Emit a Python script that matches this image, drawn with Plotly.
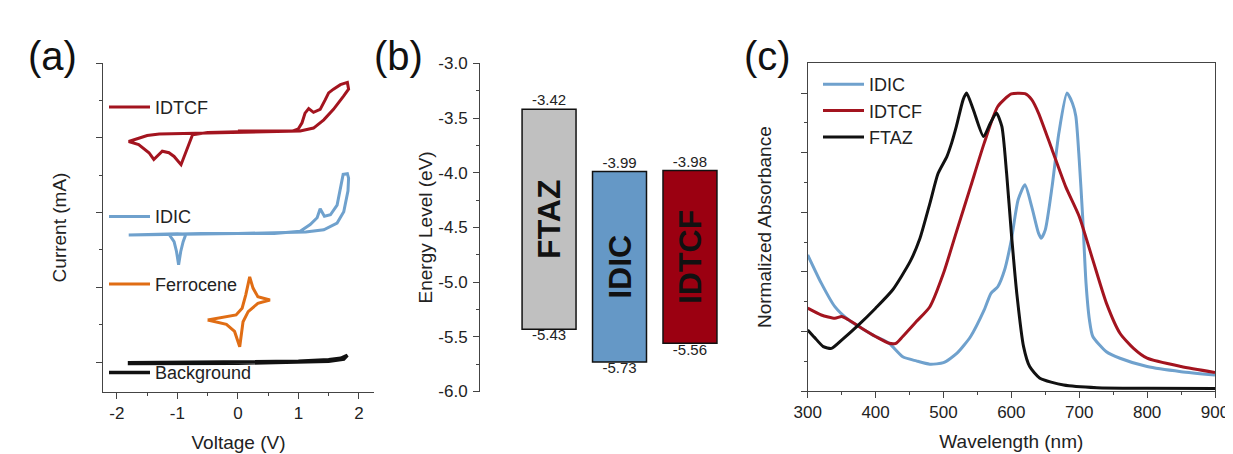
import plotly.graph_objects as go

# ---------------- data ----------------
# (a) cyclic voltammetry (V, arbitrary offset current units)
idtcf_v = [0.0, 0.5, 0.9, 1.0, 1.06, 1.11, 1.17, 1.25, 1.36, 1.445, 1.5, 1.58, 1.695, 1.81, 1.83, 1.75, 1.58,
           1.42, 1.25, 1.03, 0.5, 0.0, -0.5, -0.75, -1.0, -1.3, -1.5, -1.805, -1.64, -1.47, -1.39, -1.25,
           -1.14, -1.055, -0.94, -0.86, -0.75, -0.5, 0.0]
idtcf_i = [3.09, 3.09, 3.09, 3.12, 3.2, 3.33, 3.39, 3.34, 3.38, 3.51, 3.60, 3.65, 3.71, 3.74, 3.65, 3.56, 3.38,
           3.24, 3.13, 3.09, 3.08, 3.08, 3.07, 3.06, 3.06, 3.05, 3.03, 2.95, 2.91, 2.80, 2.71, 2.82,
           2.80, 2.75, 2.64, 2.80, 3.04, 3.07, 3.08]

idic_v = [0.0, 0.6, 1.03, 1.195, 1.31, 1.36, 1.43, 1.53, 1.64, 1.695, 1.74, 1.81, 1.83, 1.82, 1.75, 1.64,
          1.42, 1.12, 0.6, 0.0, -0.6, -1.14, -1.055, -1.015, -0.98, -0.945, -0.905, -0.86, -1.0, -1.5,
          -1.805, -1.5, -0.6, 0.0]
idic_i = [1.72, 1.72, 1.75, 1.84, 1.93, 2.05, 1.95, 1.97, 2.10, 2.33, 2.51, 2.52, 2.46, 2.29, 2.01, 1.86,
          1.77, 1.74, 1.73, 1.72, 1.72, 1.71, 1.61, 1.48, 1.30, 1.48, 1.61, 1.71, 1.715, 1.71,
          1.70, 1.70, 1.71, 1.72]

ferro_v = [-0.5, -0.25, -0.03, 0.07, 0.13, 0.195, 0.25, 0.33, 0.53, 0.33, 0.17, 0.085, 0.03, -0.055, -0.19, -0.5]
ferro_i = [0.563, 0.594, 0.63, 0.72, 0.90, 1.14, 0.99, 0.875, 0.83, 0.786, 0.675, 0.54, 0.205, 0.41, 0.505, 0.563]

bg_v = [-1.82, 0.0, 1.0, 1.5, 1.7, 1.81, 1.75, 1.5, 0.0, -1.82]
bg_i = [-0.01, 0.0, 0.01, 0.03, 0.05, 0.09, 0.04, 0.01, -0.015, -0.02]

cv_xtick_vals = [-2, -1, 0, 1, 2]
cv_xtick_text = ["-2", "-1", "0", "1", "2"]

# (b) energy levels
materials = ["FTAZ", "IDIC", "IDTCF"]
lumo = [-3.42, -3.99, -3.98]
homo = [-5.43, -5.73, -5.56]
energy_tick_vals = [-3.0, -3.5, -4.0, -4.5, -5.0, -5.5, -6.0]
energy_tick_text = ["-3.0", "-3.5", "-4.0", "-4.5", "-5.0", "-5.5", "-6.0"]

# (c) normalized absorbance
wl_idic = [300, 320, 340, 360, 380, 400, 420, 440, 460, 480, 500, 520, 540, 560, 570, 580, 590, 600,
           610, 620, 630, 640, 644, 650, 660, 670, 682, 690, 695, 700, 705, 710, 715, 720, 740, 760,
           800, 850, 900]
ab_idic = [0.457, 0.362, 0.283, 0.239, 0.21, 0.183, 0.16, 0.115, 0.101, 0.09, 0.095, 0.127, 0.183,
           0.272, 0.328, 0.35, 0.406, 0.507, 0.642, 0.692, 0.619, 0.53, 0.513, 0.541, 0.686, 0.866,
           1.0, 0.966, 0.922, 0.776, 0.586, 0.362, 0.239, 0.183, 0.132, 0.11, 0.082, 0.065, 0.054]

wl_idtcf = [300, 320, 340, 350, 360, 380, 400, 420, 430, 440, 460, 480, 500, 520, 540, 560, 580, 600,
            620, 630, 640, 660, 680, 700, 720, 740, 760, 780, 800, 850, 900]
ab_idtcf = [0.278, 0.255, 0.244, 0.25, 0.239, 0.21, 0.183, 0.16, 0.16, 0.183, 0.233, 0.283, 0.395,
            0.541, 0.686, 0.832, 0.955, 0.997, 0.998, 0.978, 0.933, 0.81, 0.686, 0.586, 0.44, 0.295,
            0.194, 0.143, 0.11, 0.082, 0.062]

wl_ftaz = [300, 310, 323, 335, 350, 375, 400, 425, 451, 465, 480, 492, 505, 512, 519, 529, 534, 544,
           559, 569, 578, 586, 593, 600, 608, 618, 627, 642, 677, 726, 800, 900]
ab_ftaz = [0.205, 0.18, 0.149, 0.143, 0.171, 0.222, 0.278, 0.339, 0.435, 0.51, 0.63, 0.73, 0.787,
           0.832, 0.888, 0.978, 1.0, 0.944, 0.854, 0.899, 0.933, 0.888, 0.731, 0.53, 0.328, 0.149,
           0.082, 0.043, 0.02, 0.011, 0.009, 0.008]

wl_tick_vals = [300, 400, 500, 600, 700, 800, 900]
wl_tick_text = ["300", "400", "500", "600", "700", "800", "900"]

# ---------------- styling ----------------
W, H = 1233, 454
OFF = 8  # default page body margin: the figure is drawn 8 px from the window's top-left corner
FONT = "Liberation Sans, Arial, sans-serif"
TXT = "#222222"
AX = "#444444"
RED = "#a3141f"
BLUE = "#6fa1cd"
ORANGE = "#e06d14"
bar_colors = ["#c0c0c0", "#6598c6", "#9b0011"]


def px(xp):
    """window x pixel -> paper fraction"""
    return (xp - OFF) / W


def py(yp):
    """window y pixel -> paper fraction"""
    return 1 - (yp - OFF) / H


fig = go.Figure()

# (a) traces, each with its own in-plot legend
cv_sets = [
    ("IDTCF", idtcf_v, idtcf_i, RED, 3, "legend2"),
    ("IDIC", idic_v, idic_i, BLUE, 3, "legend3"),
    ("Ferrocene", ferro_v, ferro_i, ORANGE, 3, "legend4"),
    ("Background", bg_v, bg_i, "#111111", 3.5, "legend5"),
]
for name, xv, yv, col, lw, lg in cv_sets:
    fig.add_trace(go.Scatter(x=xv, y=yv, mode="lines", name=name, xaxis="x", yaxis="y",
                             line=dict(color=col, width=lw), legend=lg, hoverinfo="skip"))

# (b) energy level bars
fig.add_trace(go.Bar(
    x=materials, y=[l - h for l, h in zip(lumo, homo)], base=homo, xaxis="x2", yaxis="y2",
    width=0.766, marker=dict(color=bar_colors, line=dict(color="#111111", width=1.5)),
    text=materials, textposition="inside", insidetextanchor="middle", textangle=-90,
    textfont=dict(size=32, color="#111111", family=FONT, weight="bold"),
    showlegend=False, hoverinfo="skip", cliponaxis=False))
fig.add_trace(go.Scatter(
    x=materials, y=lumo, mode="text", text=[f"{v:.2f}" for v in lumo], textposition="top center",
    textfont=dict(size=15, color=TXT), xaxis="x2", yaxis="y2", showlegend=False,
    hoverinfo="skip", cliponaxis=False))
fig.add_trace(go.Scatter(
    x=materials, y=homo, mode="text", text=[f"{v:.2f}" for v in homo], textposition="bottom center",
    textfont=dict(size=15, color=TXT), xaxis="x2", yaxis="y2", showlegend=False,
    hoverinfo="skip", cliponaxis=False))

# (c) absorbance
for name, xv, yv, col in [("IDIC", wl_idic, ab_idic, BLUE),
                          ("IDTCF", wl_idtcf, ab_idtcf, RED),
                          ("FTAZ", wl_ftaz, ab_ftaz, "#111111")]:
    fig.add_trace(go.Scatter(x=xv, y=yv, mode="lines", name=name, xaxis="x3", yaxis="y3",
                             line=dict(color=col, width=3, shape="spline", smoothing=0.6),
                             legend="legend", hoverinfo="skip"))

tick_common = dict(showgrid=False, zeroline=False, showline=True, linecolor=AX, linewidth=1,
                   ticks="outside", ticklen=6, tickwidth=1, tickcolor=AX, automargin=False,
                   tickfont=dict(size=17, color=TXT))
title_font = dict(size=19, color=TXT)
leg_common = dict(xanchor="left", yanchor="middle", bgcolor="rgba(0,0,0,0)",
                  font=dict(size=18, color=TXT), itemwidth=41)

fig.update_layout(
    template="none",
    width=W, height=H, margin=dict(l=0, r=0, t=0, b=0, autoexpand=False), autosize=False,
    paper_bgcolor="white", plot_bgcolor="white",
    font=dict(family=FONT, size=16, color=TXT),
    xaxis=dict(domain=[px(103), px(374)], anchor="y", range=[-2.23, 2.25],
               tickmode="array", tickvals=cv_xtick_vals, ticktext=cv_xtick_text,
               minor=dict(tickmode="array", tickvals=[-1.5, -0.5, 0.5, 1.5], ticks="outside",
                          ticklen=3, tickcolor=AX),
               title=dict(text="Voltage (V)", font=title_font, standoff=13), **tick_common),
    yaxis=dict(domain=[py(392), py(63)], anchor="x", range=[-0.4, 4.0],
               tickmode="array", tickvals=[0, 1, 2, 3, 4], showticklabels=False,
               minor=dict(tickmode="array", tickvals=[0.5, 1.5, 2.5, 3.5], ticks="outside",
                          ticklen=3, tickcolor=AX),
               title=dict(text="Current (mA)", font=title_font, standoff=24), **tick_common),
    xaxis2=dict(domain=[px(480), px(740)], anchor="y2", type="category",
                categoryarray=materials, range=[-0.98, 2.71], visible=False),
    yaxis2=dict(domain=[py(391.5), py(63.3)], anchor="x2", range=[-6, -3],
                tickmode="array", tickvals=energy_tick_vals, ticktext=energy_tick_text,
                ticklabelstandoff=2,
                minor=dict(tickmode="array", tickvals=[-3.25, -3.75, -4.25, -4.75, -5.25, -5.75],
                           ticks="outside", ticklen=3, tickcolor=AX),
                title=dict(text="Energy Level (eV)", font=title_font, standoff=0), **tick_common),
    xaxis3=dict(domain=[px(807.7), px(1215)], anchor="y3", range=[300, 900], mirror=True,
                tickmode="array", tickvals=wl_tick_vals, ticktext=wl_tick_text,
                minor=dict(tickmode="array", tickvals=[350, 450, 550, 650, 750, 850],
                           ticks="outside", ticklen=3, tickcolor=AX),
                title=dict(text="Wavelength (nm)", font=title_font, standoff=13), **tick_common),
    yaxis3=dict(domain=[py(391), py(63.3)], anchor="x3", range=[0, 1.1], mirror=True,
                tickmode="array", tickvals=[0, 0.2, 0.4, 0.6, 0.8, 1.0], showticklabels=False,
                minor=dict(tickmode="array", tickvals=[0.1, 0.3, 0.5, 0.7, 0.9], ticks="outside",
                           ticklen=3, tickcolor=AX),
                title=dict(text="Normalized Absorbance", font=title_font, standoff=24), **tick_common),
    legend=dict(x=px(818), y=py(66), xanchor="left", yanchor="top", bgcolor="rgba(0,0,0,0)",
                font=dict(size=18, color=TXT), itemwidth=41, tracegroupgap=0),
    legend2=dict(x=px(104), y=py(107.3), **leg_common),
    legend3=dict(x=px(104), y=py(216.7), **leg_common),
    legend4=dict(x=px(104), y=py(284.3), **leg_common),
    legend5=dict(x=px(104), y=py(372.7), **leg_common),
    annotations=[
        dict(text="(a)", x=px(53), y=py(56), xref="paper", yref="paper", showarrow=False,
             xanchor="center", yanchor="middle", font=dict(size=40, color="#111111")),
        dict(text="(b)", x=px(398), y=py(56), xref="paper", yref="paper", showarrow=False,
             xanchor="center", yanchor="middle", font=dict(size=40, color="#111111")),
        dict(text="(c)", x=px(767), y=py(56), xref="paper", yref="paper", showarrow=False,
             xanchor="center", yanchor="middle", font=dict(size=40, color="#111111")),
    ],
)

fig.write_html("out.html")
